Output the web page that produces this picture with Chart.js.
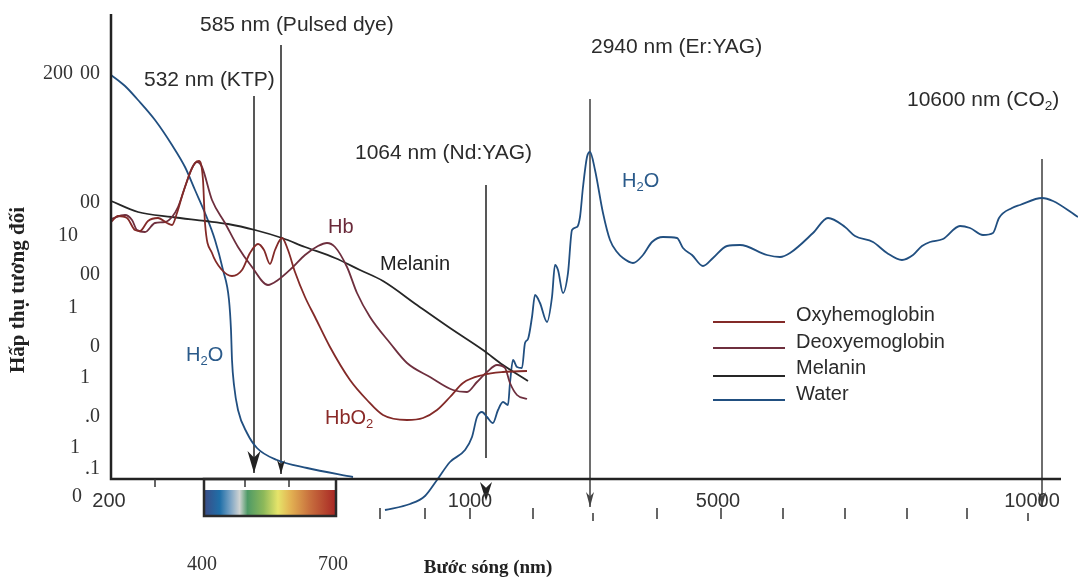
<!DOCTYPE html>
<html>
<head>
<meta charset="utf-8">
<script src="https://cdn.jsdelivr.net/npm/chart.js@4"></script>
<style>
    html, body { margin: 0; padding: 0; background: #fff; }
    canvas { display: block; }
</style>
</head>
<body>
<canvas id="absorptionChart" width="1078" height="578"></canvas>
<script>
// The wavelength axis in this figure is schematic (not linear, not log),
// so every curve is placed on a plain "axis position" scale (x: 0..967, y: 0..479).

// Oxyhemoglobin (HbO2)
let oxyX = [0, 7, 16, 24, 29, 37, 47, 56, 61, 66, 72, 79, 84, 88, 92, 94, 101, 111, 121, 131, 139, 147, 153, 159, 164, 171, 177, 184, 194, 204, 219, 239, 256, 272, 296, 312, 326, 339, 352, 372, 392, 416];
let oxyY = [257, 263, 261, 249, 248, 258, 261, 256, 254, 266, 286, 306, 316, 318, 299, 256, 226, 209, 203, 209, 226, 235, 229, 215, 229, 241, 229, 207, 182, 162, 132, 99, 79, 64, 59, 61, 69, 82, 96, 104, 107, 108];

// Deoxyhemoglobin (Hb)
let deoxyX = [0, 14, 21, 26, 34, 44, 54, 61, 67, 74, 81, 86, 91, 101, 114, 127, 141, 157, 167, 181, 194, 207, 216, 224, 236, 246, 259, 279, 296, 319, 342, 356, 366, 376, 386, 394, 399, 406, 416];
let deoxyY = [260, 264, 259, 249, 247, 256, 257, 262, 272, 292, 311, 317, 312, 279, 256, 232, 212, 194, 199, 211, 224, 233, 236, 232, 212, 186, 162, 136, 116, 102, 89, 87, 97, 107, 114, 111, 96, 84, 80];

// Melanin
let melaninX = [0, 27, 61, 94, 117, 144, 171, 194, 224, 249, 272, 306, 339, 372, 392, 417];
let melaninY = [278, 267, 262, 258, 255, 249, 241, 232, 221, 209, 198, 174, 151, 129, 114, 98];

// Water (two pieces, null = gap)
let waterX = [0, 14, 27, 44, 61, 74, 84, 94, 104, 112, 118, 120, 121, 123, 127, 136, 146, 166, 196, 242,
    258,
    274, 299, 314, 326, 339, 354, 361, 366, 371, 376, 382, 387, 392, 397, 399, 402, 406, 411, 414, 417, 421, 424, 429, 436, 441, 444, 447, 452, 457, 461, 466, 469, 472, 476, 479, 484, 492, 499, 506, 512, 522, 532, 541, 552, 566, 572, 581, 592, 602, 616, 629, 656, 669, 679, 702, 717, 734, 744, 762, 776, 791, 802, 811, 819, 832, 849, 859, 872, 882, 888, 901, 909, 931, 942, 967];
let waterY = [404, 393, 379, 359, 334, 312, 289, 266, 239, 209, 179, 149, 119, 94, 69, 46, 31, 19, 11, 2,
    null,
    -31, -25, -17, -1, 17, 29, 42, 62, 67, 62, 56, 69, 77, 74, 96, 119, 112, 111, 136, 140, 162, 184, 176, 157, 182, 214, 209, 186, 206, 249, 252, 262, 292, 322, 327, 309, 266, 239, 227, 221, 216, 224, 237, 242, 241, 231, 224, 213, 221, 233, 234, 224, 222, 226, 246, 261, 252, 243, 237, 226, 219, 224, 233, 237, 240, 253, 251, 244, 246, 261, 271, 274, 281, 278, 262];

// laser wavelengths marked on the figure
let laserLabels = ['532 nm (KTP)', '585 nm (Pulsed dye)', '1064 nm (Nd:YAG)', '2940 nm (Er:YAG)', '10600 nm (CO2)'];
let laserX = [143, 170, 375, 479, 931];
let laserTop = [383, 434, 294, 380, 320];
let laserBottom = [6, 5, 21, -28, -28];

// x axis tick labels
let xTickLabels = ['200', '1000', '5000', '10000'];
let xTickPos = [-2, 359, 607, 921];
let spectrumLabels = ['400', '700'];
let spectrumPos = [91, 222];

// y axis tick labels (as printed, scrambled)
let yTickLabels = ['200', '00', '00', '10', '00', '1', '0', '1', '.0', '1', '.1', '0'];
let yTickPos = [405, 405, 276, 243, 204, 171, 132, 101, 62, 31, 10, -18];

function toPoints(xs, ys) {
    return xs.map((x, i) => ({ x: x, y: ys[i] }));
}

const SANS = '"Liberation Sans", Arial, sans-serif';
const SERIF = '"Liberation Serif", "Times New Roman", serif';

// text with subscript parts: [["H",0],["2",1],["O",0]]
function drawParts(ctx, parts, x, y, size, align) {
    let total = 0;
    parts.forEach(p => {
        ctx.font = (p[1] ? size * 0.65 : size) + 'px ' + SANS;
        total += ctx.measureText(p[0]).width;
    });
    let cx = align === 'center' ? x - total / 2 : x;
    ctx.textAlign = 'left';
    parts.forEach(p => {
        ctx.font = (p[1] ? size * 0.65 : size) + 'px ' + SANS;
        ctx.fillText(p[0], cx, p[1] ? y + size * 0.3 : y);
        cx += ctx.measureText(p[0]).width;
    });
}

function arrowHead(ctx, x, tipY, len, half) {
    ctx.beginPath();
    ctx.moveTo(x, tipY);
    ctx.lineTo(x - half, tipY - len);
    ctx.lineTo(x, tipY - len * 0.7);
    ctx.lineTo(x + half, tipY - len);
    ctx.closePath();
    ctx.fill();
}

const figurePlugin = {
    id: 'figure',
    beforeDatasetsDraw(chart) {
        const ctx = chart.ctx;
        const px = v => chart.scales.x.getPixelForValue(v);
        const py = v => chart.scales.y.getPixelForValue(v);
        ctx.save();
        // laser lines
        for (let i in laserX) {
            ctx.strokeStyle = i >= 3 ? '#6e6e6e' : '#2e2e2e';
            ctx.lineWidth = i >= 3 ? 2 : 1.6;
            ctx.beginPath();
            ctx.moveTo(px(laserX[i]), py(laserTop[i]));
            ctx.lineTo(px(laserX[i]), py(laserBottom[i]));
            ctx.stroke();
        }
        ctx.restore();
    },
    afterDatasetsDraw(chart) {
        const ctx = chart.ctx;
        const px = v => chart.scales.x.getPixelForValue(v);
        const py = v => chart.scales.y.getPixelForValue(v);
        ctx.save();

        // arrow heads
        ctx.fillStyle = '#222';
        arrowHead(ctx, px(laserX[0]), py(laserBottom[0]), 22, 6.5);
        arrowHead(ctx, px(laserX[1]), py(laserBottom[1]), 14, 4);
        arrowHead(ctx, px(laserX[2]), py(-22), 19, 6);
        ctx.fillStyle = '#444';
        arrowHead(ctx, px(laserX[3]), py(laserBottom[3]), 15, 4);
        arrowHead(ctx, px(laserX[4]), py(laserBottom[4]), 15, 4);

        // axes
        ctx.strokeStyle = '#222';
        ctx.lineWidth = 2.5;
        ctx.beginPath();
        ctx.moveTo(px(0), py(465));
        ctx.lineTo(px(0), py(0));
        ctx.lineTo(px(950), py(0));
        ctx.stroke();

        // small tick marks
        ctx.lineWidth = 1.5;
        ctx.strokeStyle = '#333';
        [44, 134, 178].forEach(t => {
            ctx.beginPath(); ctx.moveTo(px(t), py(0)); ctx.lineTo(px(t), py(-8)); ctx.stroke();
        });
        [269, 314, 359, 422, 546, 610, 672, 734, 796, 856].forEach(t => {
            ctx.beginPath(); ctx.moveTo(px(t), py(-29)); ctx.lineTo(px(t), py(-40)); ctx.stroke();
        });
        [482, 917].forEach(t => {
            ctx.beginPath(); ctx.moveTo(px(t), py(-34)); ctx.lineTo(px(t), py(-42)); ctx.stroke();
        });

        // visible spectrum bar
        const gx0 = px(93), gx1 = px(225);
        const grad = ctx.createLinearGradient(gx0, 0, gx1, 0);
        grad.addColorStop(0.00, '#3b4c86');
        grad.addColorStop(0.12, '#1f6fa8');
        grad.addColorStop(0.20, '#7aa3c4');
        grad.addColorStop(0.27, '#cfd3d2');
        grad.addColorStop(0.33, '#4f9a66');
        grad.addColorStop(0.45, '#8cb85a');
        grad.addColorStop(0.56, '#e6e46a');
        grad.addColorStop(0.66, '#e2b052');
        grad.addColorStop(0.80, '#c8703e');
        grad.addColorStop(1.00, '#a82624');
        ctx.fillStyle = grad;
        ctx.fillRect(gx0, py(-11), gx1 - gx0, py(-36) - py(-11));
        ctx.strokeStyle = '#2a2a2a';
        ctx.lineWidth = 2.5;
        ctx.strokeRect(gx0, py(0), gx1 - gx0, py(-37) - py(0));

        // tick labels
        ctx.fillStyle = '#333';
        ctx.textBaseline = 'middle';
        ctx.textAlign = 'center';
        ctx.font = '20px ' + SANS;
        for (let i in xTickLabels) {
            ctx.fillText(xTickLabels[i], px(xTickPos[i]), py(-22));
        }
        ctx.font = '20px ' + SERIF;
        for (let i in spectrumLabels) {
            ctx.fillText(spectrumLabels[i], px(spectrumPos[i]), py(-86));
        }
        const yRight = [73, 100, 100, 78, 100, 78, 100, 90, 100, 80, 100, 82];
        ctx.textAlign = 'right';
        for (let i in yTickLabels) {
            ctx.fillText(yTickLabels[i], yRight[i], py(yTickPos[i]));
        }

        // axis titles
        ctx.fillStyle = '#222';
        ctx.font = 'bold 19px ' + SERIF;
        ctx.textAlign = 'center';
        ctx.fillText('Bước sóng (nm)', px(377), py(-89));
        ctx.save();
        ctx.font = 'bold 21px ' + SERIF;
        ctx.translate(19, py(189));
        ctx.rotate(-Math.PI / 2);
        ctx.fillText('Hấp thụ tương đối', 0, 0);
        ctx.restore();

        // laser labels
        ctx.fillStyle = '#2b2b2b';
        ctx.textAlign = 'left';
        ctx.font = '21px ' + SANS;
        ctx.fillText(laserLabels[0], px(33), py(399));
        ctx.fillText(laserLabels[1], px(89), py(454));
        ctx.fillText(laserLabels[2], px(244), py(326));
        ctx.fillText(laserLabels[3], px(480), py(432));
        drawParts(ctx, [['10600 nm (CO', 0], ['2', 1], [')', 0]], px(796), py(379), 21, 'left');

        // curve labels
        ctx.fillStyle = '#2a5a8a';
        drawParts(ctx, [['H', 0], ['2', 1], ['O', 0]], px(75), py(124), 20, 'left');
        drawParts(ctx, [['H', 0], ['2', 1], ['O', 0]], px(511), py(298), 20, 'left');
        ctx.fillStyle = '#6a2a3a';
        ctx.font = '20px ' + SANS;
        ctx.fillText('Hb', px(217), py(252));
        ctx.fillStyle = '#222';
        ctx.fillText('Melanin', px(269), py(215));
        ctx.fillStyle = '#8a2a28';
        drawParts(ctx, [['HbO', 0], ['2', 1]], px(214), py(61), 20, 'left');

        // legend
        const legendLineY = [157, 131, 103, 79];
        const legendTextY = [164, 137, 111, 85];
        chart.data.datasets.forEach((ds, i) => {
            ctx.strokeStyle = ds.borderColor;
            ctx.lineWidth = 2;
            ctx.beginPath();
            ctx.moveTo(px(602), py(legendLineY[i]));
            ctx.lineTo(px(674), py(legendLineY[i]));
            ctx.stroke();
            ctx.fillStyle = '#2b2b2b';
            ctx.font = '20px ' + SANS;
            ctx.textAlign = 'left';
            ctx.fillText(ds.label, px(685), py(legendTextY[i]));
        });

        ctx.restore();
    }
};

const ctx = document.getElementById('absorptionChart').getContext('2d');

const myChart = new Chart(ctx, {
    type: 'line',
    data: {
        datasets: [
            {
                label: 'Oxyhemoglobin',
                data: toPoints(oxyX, oxyY),
                borderColor: '#832a28',
            },
            {
                label: 'Deoxyemoglobin',
                data: toPoints(deoxyX, deoxyY),
                borderColor: '#6e2f3e',
            },
            {
                label: 'Melanin',
                data: toPoints(melaninX, melaninY),
                borderColor: '#262626',
            },
            {
                label: 'Water',
                data: toPoints(waterX, waterY),
                borderColor: '#214f80',
            },
        ],
    },
    options: {
        responsive: false,
        animation: false,
        devicePixelRatio: 1,
        layout: {
            padding: { left: 111, right: 0, top: 0, bottom: 99 },
        },
        elements: {
            point: { radius: 0 },
            line: { borderWidth: 1.8, cubicInterpolationMode: 'monotone', fill: false },
        },
        datasets: {
            line: { clip: false, spanGaps: false },
        },
        plugins: {
            legend: { display: false },
            tooltip: { enabled: false },
        },
        scales: {
            x: { type: 'linear', min: 0, max: 967, display: false },
            y: { type: 'linear', min: 0, max: 479, display: false },
        },
    },
    plugins: [figurePlugin],
});
</script>
</body>
</html>
